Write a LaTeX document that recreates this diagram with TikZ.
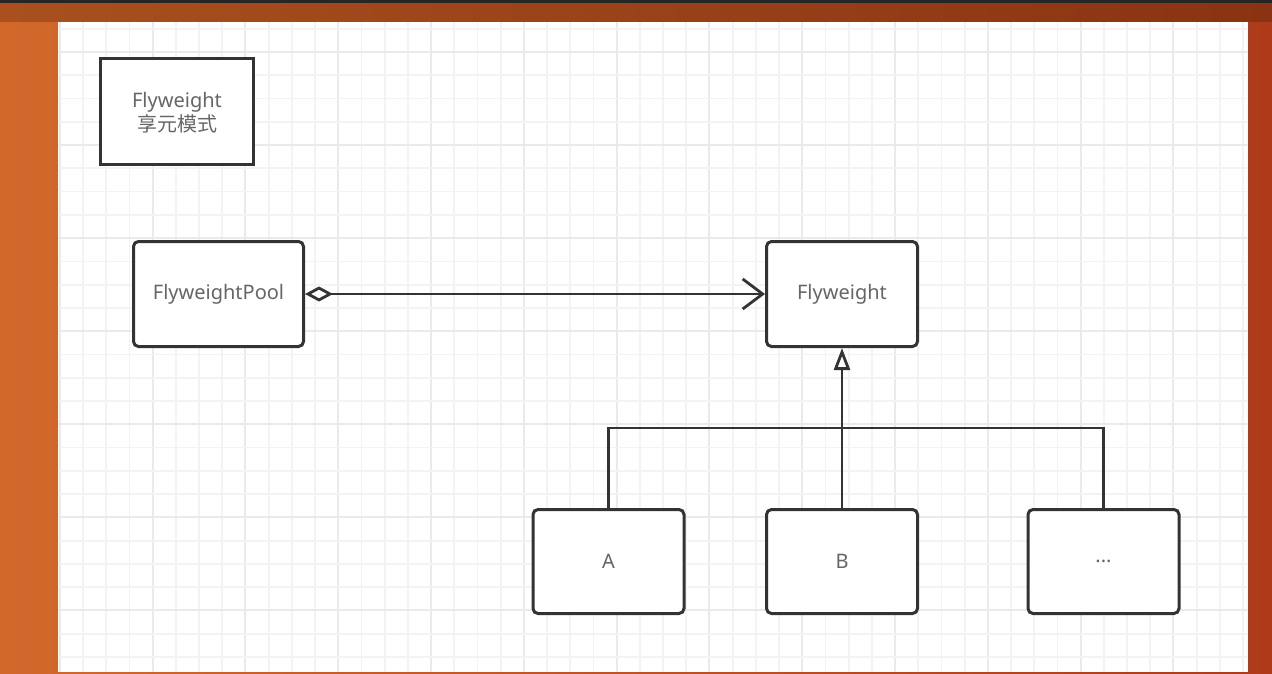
\documentclass[tikz,border=0pt]{standalone}
\usepackage{fontspec}
\setmainfont{Noto Sans}
\newfontfamily\cjk{Noto Sans CJK SC}
\usetikzlibrary{arrows.meta}
\definecolor{ink}{HTML}{333333}
\definecolor{label}{HTML}{666666}
\definecolor{gridminor}{RGB}{243,243,246}
\definecolor{gridmajor}{RGB}{234,234,238}
\definecolor{bgleft}{HTML}{D2692B}
\definecolor{bgright}{HTML}{AE3A1A}
\definecolor{topleft}{HTML}{A9501E}
\definecolor{topright}{HTML}{8A3312}
\tikzset{
  umlbox/.style={draw=ink, line width=3pt, fill=white, rounded corners=5pt,
    inner sep=0pt, minimum width=151pt, minimum height=104pt,
    font=\fontsize{20}{25}\selectfont, text=label, align=center},
  notebox/.style={umlbox, rounded corners=0pt},
  link/.style={draw=ink, line width=2.8pt},
}
\begin{document}
\begin{tikzpicture}[x=1pt, y=-1pt]
  \useasboundingbox (0,0) rectangle (1272,674);
  % backdrop
  \shade[left color=bgleft, right color=bgright] (0,0) rectangle (1272,674);
  \shade[left color=topleft, right color=topright] (0,0) rectangle (1272,22);
  \fill[black!85] (0,0) rectangle (1272,3);
  % canvas with grid
  \fill[white] (58,22.5) rectangle (1248,672);
  \begin{scope}
    \clip (58,22.5) rectangle (1248,672);
    \foreach \k in {0,...,51} {
      \pgfmathsetmacro{\gx}{59.8+23.2*\k}
      \pgfmathtruncatemacro{\m}{mod(\k,4)}
      \ifnum\m=0
        \draw[gridmajor, line width=2pt] (\gx,22) -- (\gx,672);
      \else
        \draw[gridminor, line width=1.8pt] (\gx,22) -- (\gx,672);
      \fi
    }
    \foreach \k in {0,...,28} {
      \pgfmathsetmacro{\gy}{28.7+23.27*\k}
      \pgfmathtruncatemacro{\m}{mod(\k+3,4)}
      \ifnum\m=0
        \draw[gridmajor, line width=2pt] (58,\gy) -- (1248,\gy);
      \else
        \draw[gridminor, line width=1.8pt] (58,\gy) -- (1248,\gy);
      \fi
    }
  \end{scope}
  % title note
  \node[notebox, minimum width=153pt, minimum height=106pt] (title) at (177,111.5)
    {\rule{0pt}{17pt}Flyweight\\[-1pt]{\cjk 享元模式}};
  % classes
  \node[umlbox, minimum width=170pt, minimum height=105pt] (pool) at (218.5,294) {FlyweightPool};
  \node[umlbox, minimum height=105pt] (fw) at (842,294) {Flyweight};
  \node[umlbox] (a) at (608.5,561.5) {A};
  \node[umlbox] (b) at (842,561.5) {B};
  \node[umlbox] (c) at (1103.5,561.5) {...};
  % aggregation
  \draw[link, {Diamond[open, length=28pt, width=15pt, line width=2.8pt]}-{Straight Barb[length=20pt, width=30pt, line width=2.8pt]}]
    (pool.east) -- (fw.west);
  % inheritance
  \coordinate (joint) at (842,428);
  \draw[link] (a.north) |- (joint) -| (c.north);
  \draw[link, -{Triangle[open, fill=white, length=22pt, width=16pt, line width=2.8pt]}]
    (b.north) -- (fw.south);
\end{tikzpicture}
\end{document}
